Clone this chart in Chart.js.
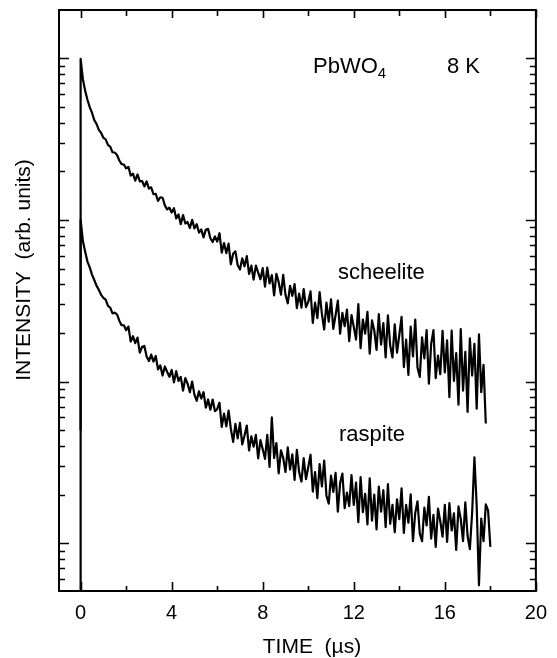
<!DOCTYPE html>
<html>
<head>
<meta charset="utf-8">
<script src="https://cdn.jsdelivr.net/npm/chart.js@4.4.1/dist/chart.umd.min.js"></script>
<style>
  html, body { margin: 0; padding: 0; background: #fff; }
  #c { display: block; }
</style>
</head>
<body>
<canvas id="c" width="557" height="658"></canvas>
<script>
// ---- data ----
// time in microseconds (first point is just before the excitation pulse)
const timeUs = [
  -0.01,
  0.0, 0.1, 0.2, 0.3, 0.4, 0.5, 0.6, 0.7, 0.8, 0.9,
  1.0, 1.1, 1.2, 1.3, 1.4, 1.5, 1.6, 1.7, 1.8, 1.9,
  2.0, 2.1, 2.2, 2.3, 2.4, 2.5, 2.6, 2.7, 2.8, 2.9,
  3.0, 3.1, 3.2, 3.3, 3.4, 3.5, 3.6, 3.7, 3.8, 3.9,
  4.0, 4.1, 4.2, 4.3, 4.4, 4.5, 4.6, 4.7, 4.8, 4.9,
  5.0, 5.1, 5.2, 5.3, 5.4, 5.5, 5.6, 5.7, 5.8, 5.9,
  6.0, 6.1, 6.2, 6.3, 6.4, 6.5, 6.6, 6.7, 6.8, 6.9,
  7.0, 7.1, 7.2, 7.3, 7.4, 7.5, 7.6, 7.7, 7.8, 7.9,
  8.0, 8.1, 8.2, 8.3, 8.4, 8.5, 8.6, 8.7, 8.8, 8.9,
  9.0, 9.1, 9.2, 9.3, 9.4, 9.5, 9.6, 9.7, 9.8, 9.9,
  10.0, 10.1, 10.2, 10.3, 10.4, 10.5, 10.6, 10.7, 10.8, 10.9,
  11.0, 11.1, 11.2, 11.3, 11.4, 11.5, 11.6, 11.7, 11.8, 11.9,
  12.0, 12.1, 12.2, 12.3, 12.4, 12.5, 12.6, 12.7, 12.8, 12.9,
  13.0, 13.1, 13.2, 13.3, 13.4, 13.5, 13.6, 13.7, 13.8, 13.9,
  14.0, 14.1, 14.2, 14.3, 14.4, 14.5, 14.6, 14.7, 14.8, 14.9,
  15.0, 15.1, 15.2, 15.3, 15.4, 15.5, 15.6, 15.7, 15.8, 15.9,
  16.0, 16.1, 16.2, 16.3, 16.4, 16.5, 16.6, 16.7, 16.8, 16.9,
  17.0, 17.1, 17.2, 17.3, 17.4, 17.5, 17.6, 17.7, 17.8, 17.9,
  18.0
];

// intensity (arb. units), scheelite PbWO4 at 8 K
const scheelite = [
  0.3,
  990, 741, 628, 553, 498, 460, 414, 392, 360, 345,
  322, 315, 291, 284, 262, 261, 252, 233, 221, 220,
  208, 213, 188, 193, 175, 191, 173, 174, 161, 173,
  156, 159, 144, 145, 131, 138, 137, 123, 116, 119,
  111, 118, 102, 108, 94, 107, 95, 97, 89, 100,
  88.6, 94, 83.5, 87.4, 78, 87, 88, 77, 73, 79,
  73.4, 82.7, 62.7, 71.9, 62.3, 71.3, 53.1, 61.7, 63.9, 52.4,
  49.4, 57.9, 51.6, 59.7, 46.3, 52.1, 42.7, 52.1, 47.2, 42.9,
  50.3, 38.7, 50.7, 40.5, 45.5, 34.1, 46.4, 41.2, 34.5, 45.7,
  34.4, 30.5, 39.1, 33.9, 40.1, 28.5, 35.0, 28.7, 37.3, 28.9,
  31.1, 36.1, 23.1, 30.8, 24.7, 35.8, 26.2, 21.0, 30.8, 23.5,
  32.3, 21.2, 25.7, 31.7, 19.8, 26.6, 22.0, 27.9, 17.8, 25.8,
  21.8, 18.2, 30.1, 16.1, 24.2, 19.8, 27.0, 14.9, 23.9, 20.7,
  15.7, 26.1, 16.9, 23.0, 14.1, 25.7, 16.7, 14.1, 22.6, 15.1,
  19.4, 25.1, 12.3, 18.2, 11.0, 21.9, 14.3, 24.2, 12.2, 10.7,
  18.8, 13.9, 20.8, 9.7, 17.1, 20.8, 10.5, 14.5, 11.1, 20.6,
  11.4, 18.0, 8.0, 20.7, 10.1, 15.0, 7.2, 21.1, 8.8, 15.3,
  6.5, 18.5, 10.9, 17.1, 6.8, 19.6, 8.6, 12.7, 5.5, null,
  null
];

// intensity (arb. units), raspite PbWO4 at 8 K
const raspite = [
  5,
  100, 74, 63.5, 55.2, 50.9, 45.9, 42.5, 39.1, 36.9, 34.4,
  32.9, 32.1, 29.4, 28.7, 26.4, 26.7, 26.0, 23.8, 22.3, 22.3,
  20.8, 21.9, 17.7, 19.1, 17.3, 18.7, 15.1, 16.4, 16.6, 14.3,
  13.4, 14.7, 13.3, 14.4, 11.9, 12.6, 10.9, 12.4, 11.5, 10.7,
  11.8, 9.9, 11.6, 10.1, 10.7, 8.8, 10.5, 9.7, 8.6, 10.0,
  8.3, 7.6, 8.7, 7.86, 8.6, 6.9, 7.75, 6.7, 7.74, 6.57,
  6.75, 7.4, 5.25, 6.34, 5.29, 6.61, 5.11, 4.24, 5.47, 4.46,
  5.55, 4.09, 4.64, 5.35, 3.75, 4.59, 3.96, 4.68, 3.35, 4.34,
  3.82, 3.33, 4.68, 2.97, 6.0, 3.37, 4.17, 2.71, 3.76, 3.37,
  2.76, 3.92, 2.86, 3.55, 2.47, 3.78, 2.75, 2.41, 3.36, 2.49,
  2.95, 3.53, 2.09, 2.76, 1.90, 3.09, 2.25, 3.25, 1.97, 1.76,
  2.62, 2.08, 2.73, 1.57, 2.36, 2.70, 1.65, 2.06, 1.70, 2.64,
  1.73, 2.37, 1.35, 2.57, 1.56, 2.02, 1.31, 2.52, 1.38, 2.0,
  1.22, 2.24, 1.57, 2.13, 1.26, 2.32, 1.32, 1.73, 1.17, 1.87,
  1.41, 2.19, 1.16, 1.73, 1.34, 2.01, 1.03, 1.54, 1.82, 1.15,
  1.03, 1.66, 1.29, 1.94, 1.07, 1.50, 0.95, 1.64, 1.37, 1.10,
  1.73, 1.02, 1.77, 1.20, 1.53, 0.91, 1.69, 1.41, 1.03, 1.79,
  1.11, 0.92, 1.55, 3.4, 1.71, 0.55, 1.42, 1.03, 1.74, 1.6,
  0.95
];

// axis ticks
const xTickValues = [0, 4, 8, 12, 16, 20];
const xMinorTicks = [2, 6, 10, 14, 18];
const yMajorTicks = [1, 10, 100, 1000];
const yMinorTicks = [
  0.6, 0.7, 0.8, 0.9,
  2, 3, 4, 5, 6, 7, 8, 9,
  20, 30, 40, 50, 60, 70, 80, 90,
  200, 300, 400, 500, 600, 700, 800, 900
];

// texts
const xTitle = 'TIME  (\u00b5s)';
const yTitle = 'INTENSITY  (arb. units)';
const sampleName = 'PbWO';
const sampleSub = '4';
const tempLabel = '8 K';
const seriesNames = ['scheelite', 'raspite'];

// ---- drawing ----
const FONT = '"Liberation Sans", Arial, Helvetica, sans-serif';

function toPoints(ys) {
  return timeUs.map((t, i) => ({ x: t, y: ys[i] }));
}

const decor = {
  id: 'decor',
  afterDraw(chart) {
    const { ctx, chartArea: a, scales } = chart;
    const x = scales.x, y = scales.y;
    ctx.save();
    ctx.strokeStyle = '#000';
    ctx.fillStyle = '#000';

    // frame
    ctx.lineWidth = 2;
    ctx.strokeRect(a.left, a.top, a.right - a.left, a.bottom - a.top);

    // ticks (inside, on all four sides)
    ctx.lineWidth = 1.6;
    ctx.beginPath();
    xTickValues.forEach(v => {
      const p = Math.round(x.getPixelForValue(v)) + 0.5;
      ctx.moveTo(p, a.bottom); ctx.lineTo(p, a.bottom - 9);
      ctx.moveTo(p, a.top); ctx.lineTo(p, a.top + 8);
    });
    xMinorTicks.forEach(v => {
      const p = Math.round(x.getPixelForValue(v)) + 0.5;
      ctx.moveTo(p, a.bottom); ctx.lineTo(p, a.bottom - 5);
      ctx.moveTo(p, a.top); ctx.lineTo(p, a.top + 6);
    });
    yMajorTicks.forEach(v => {
      const p = Math.round(y.getPixelForValue(v)) + 0.5;
      ctx.moveTo(a.left, p); ctx.lineTo(a.left + 10, p);
      ctx.moveTo(a.right, p); ctx.lineTo(a.right - 10, p);
    });
    yMinorTicks.forEach(v => {
      const p = Math.round(y.getPixelForValue(v)) + 0.5;
      ctx.moveTo(a.left, p); ctx.lineTo(a.left + 6, p);
      ctx.moveTo(a.right, p); ctx.lineTo(a.right - 6, p);
    });
    ctx.stroke();

    // axis titles
    ctx.font = '21px ' + FONT;
    ctx.textAlign = 'center';
    ctx.textBaseline = 'alphabetic';
    ctx.fillText(xTitle, 312, 653);
    ctx.save();
    ctx.translate(30, 270);
    ctx.rotate(-Math.PI / 2);
    ctx.fillText(yTitle, 0, 0);
    ctx.restore();

    // annotations
    ctx.textAlign = 'left';
    ctx.font = '22px ' + FONT;
    ctx.fillText(sampleName, 313, 73);
    const w = ctx.measureText(sampleName).width;
    ctx.font = '15px ' + FONT;
    ctx.fillText(sampleSub, 313 + w, 78);
    ctx.font = '22px ' + FONT;
    ctx.fillText(tempLabel, 447, 73);
    ctx.fillText(seriesNames[0], 338, 279);
    ctx.fillText(seriesNames[1], 339, 441);
    ctx.restore();
  }
};

new Chart(document.getElementById('c'), {
  type: 'line',
  data: {
    datasets: [
      { label: seriesNames[0], data: toPoints(scheelite), borderColor: '#000', borderWidth: 2.2,
        borderJoinStyle: 'round', pointRadius: 0, tension: 0, spanGaps: false, fill: false },
      { label: seriesNames[1], data: toPoints(raspite), borderColor: '#000', borderWidth: 2.2,
        borderJoinStyle: 'round', pointRadius: 0, tension: 0, spanGaps: false, fill: false }
    ]
  },
  options: {
    responsive: false,
    animation: false,
    devicePixelRatio: 1,
    layout: { padding: { top: 10, right: 13, left: 0, bottom: 0 } },
    plugins: { legend: { display: false }, tooltip: { enabled: false } },
    scales: {
      x: {
        type: 'linear', min: -0.95, max: 20,
        grid: { display: false, drawTicks: false },
        border: { display: false },
        ticks: { color: '#000', font: { family: FONT, size: 20 }, padding: 10,
                 maxRotation: 0, autoSkip: false },
        afterBuildTicks: s => { s.ticks = xTickValues.map(v => ({ value: v })); },
        afterFit: s => { s.height = 67; }
      },
      y: {
        type: 'logarithmic', min: 0.507, max: 1986,
        grid: { display: false, drawTicks: false },
        border: { display: false },
        ticks: { display: false },
        afterFit: s => { s.width = 59; }
      }
    }
  },
  plugins: [decor]
});
</script>
</body>
</html>
